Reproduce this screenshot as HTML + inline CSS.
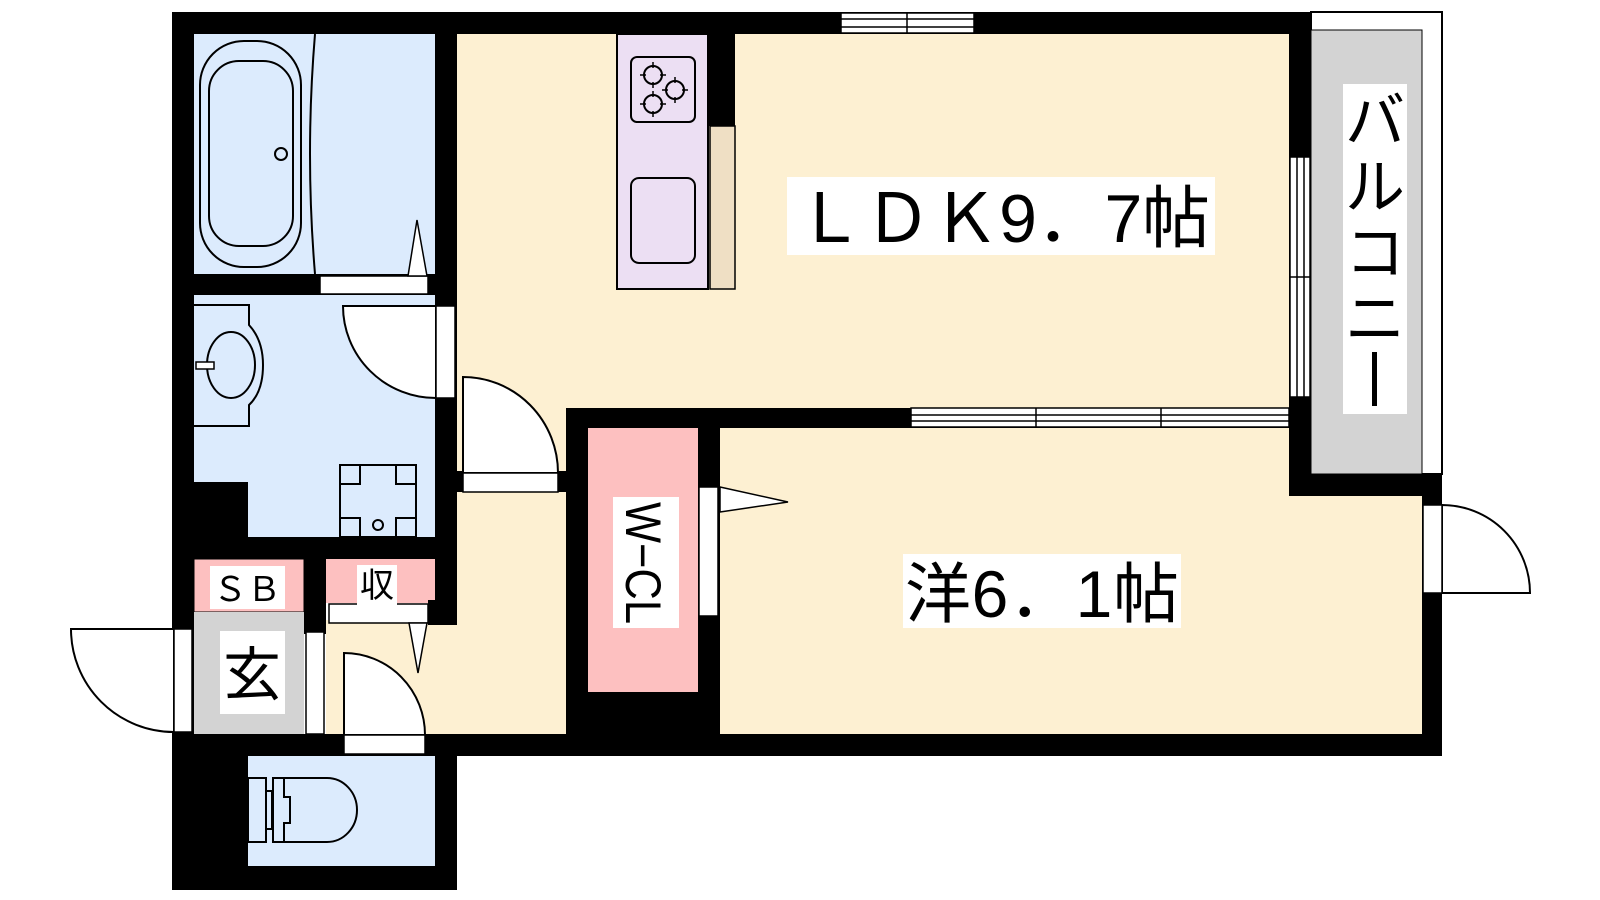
<!DOCTYPE html>
<html><head><meta charset="utf-8"><style>
html,body{margin:0;padding:0;background:#fff;width:1600px;height:900px;overflow:hidden}
svg{display:block}
text{font-family:"Liberation Sans","Noto Sans CJK JP",sans-serif;fill:#000}
</style></head><body>
<svg width="1600" height="900" viewBox="0 0 1600 900" xmlns="http://www.w3.org/2000/svg">
<!-- floors -->
<rect x="457" y="34" width="836" height="374" fill="#fdf0d2"/>
<rect x="457" y="400" width="109" height="334" fill="#fdf0d2"/>
<rect x="326" y="620" width="131" height="114" fill="#fdf0d2"/>
<rect x="720" y="427" width="702" height="307" fill="#fdf0d2"/>
<rect x="194" y="34" width="241" height="240" fill="#dcebfd"/>
<rect x="194" y="295" width="241" height="242" fill="#dcebfd"/>
<rect x="248" y="756" width="187" height="110" fill="#dcebfd"/>
<rect x="588" y="428" width="110" height="264" fill="#fdc0c0"/>
<rect x="194" y="559" width="110" height="53" fill="#fdc0c0" stroke="#000" stroke-width="1"/>
<rect x="326" y="559" width="109" height="44" fill="#fdc0c0"/>
<rect x="194" y="612" width="110" height="122" fill="#d3d3d3"/>
<!-- balcony -->
<rect x="1311" y="12" width="131" height="462" fill="#fff" stroke="#000" stroke-width="2"/>
<rect x="1311" y="30" width="111" height="444" fill="#d3d3d3" stroke="#000" stroke-width="1"/>

<!-- walls -->
<g fill="#000">
<rect x="172" y="12" width="1139" height="22"/>
<rect x="172" y="12" width="22" height="878"/>
<rect x="435" y="34" width="22" height="591"/>
<rect x="194" y="274" width="241" height="21"/>
<rect x="194" y="482" width="54" height="55"/>
<rect x="194" y="537" width="263" height="22"/>
<rect x="304" y="559" width="22" height="75"/>
<rect x="428" y="600" width="29" height="25"/>
<rect x="435" y="471" width="131" height="21"/>
<rect x="566" y="408" width="22" height="326"/>
<rect x="566" y="408" width="724" height="20"/>
<rect x="588" y="692" width="110" height="42"/>
<rect x="698" y="428" width="22" height="306"/>
<rect x="1289" y="12" width="22" height="484"/>
<rect x="1289" y="474" width="153" height="22"/>
<rect x="1422" y="474" width="20" height="282"/>
<rect x="172" y="734" width="1270" height="22"/>
<rect x="172" y="734" width="76" height="156"/>
<rect x="435" y="734" width="22" height="156"/>
<rect x="172" y="866" width="285" height="24"/>
<rect x="708" y="34" width="27" height="92"/>
</g>

<!-- windows -->
<g fill="#fff" stroke="#000" stroke-width="1.5">
<rect x="841" y="13" width="133" height="20"/>
<rect x="911" y="408" width="378" height="19"/>
<rect x="1290" y="157" width="20" height="240"/>
</g>
<g stroke="#000" stroke-width="1.5">
<line x1="841" y1="19" x2="974" y2="19"/><line x1="841" y1="27" x2="974" y2="27"/><line x1="907" y1="13" x2="907" y2="33"/>
<line x1="911" y1="415" x2="1289" y2="415"/><line x1="911" y1="421" x2="1289" y2="421"/><line x1="1036" y1="408" x2="1036" y2="427"/><line x1="1161" y1="408" x2="1161" y2="427"/>
<line x1="1297" y1="157" x2="1297" y2="397"/><line x1="1304" y1="157" x2="1304" y2="397"/><line x1="1290" y1="277" x2="1310" y2="277"/>
</g>

<!-- kitchen -->
<rect x="617" y="34" width="91" height="255" fill="#ecdff3" stroke="#000" stroke-width="2"/>
<rect x="710" y="126" width="25" height="163" fill="#efdfc4" stroke="#000" stroke-width="1.5"/>
<rect x="631" y="57" width="64" height="65" rx="6" fill="none" stroke="#000" stroke-width="2"/>
<g fill="none" stroke="#000" stroke-width="2">
<circle cx="653" cy="75" r="9"/><circle cx="675" cy="90" r="9"/><circle cx="653" cy="104" r="9"/>
<path d="M653,62v6M653,82v6M640,75h6M660,75h6M675,77v6M675,97v6M662,90h6M682,90h6M653,91v6M653,111v6M640,104h6M660,104h6" stroke-width="1.5"/>
</g>
<rect x="631" y="178" width="64" height="85" rx="8" fill="none" stroke="#000" stroke-width="2"/>

<!-- bath -->
<g fill="none" stroke="#000" stroke-width="2">
<rect x="200" y="41" width="101" height="226" rx="44"/>
<rect x="209" y="61" width="84" height="185" rx="30"/>
<circle cx="281" cy="154" r="6"/>
<path d="M315,34 Q305,154 315,274"/>
</g>
<rect x="320" y="276" width="108" height="18" fill="#fff" stroke="#000" stroke-width="1.5"/>
<path d="M408,276 L417,220 L427,276 Z" fill="#fff" stroke="#000" stroke-width="1.5"/>

<!-- washroom -->
<path d="M194,305 H249 V325 Q263,340 263,365 Q263,392 249,405 V426 H194" fill="none" stroke="#000" stroke-width="2"/>
<ellipse cx="231" cy="365" rx="24" ry="33" fill="none" stroke="#000" stroke-width="2"/>
<rect x="196" y="362" width="18" height="7" fill="#fff" stroke="#000" stroke-width="1.5"/>
<path d="M436,306 V398 A93,92 0 0 1 343,306 Z" fill="#fff" stroke="#000" stroke-width="2"/>
<rect x="436" y="306" width="19" height="92" fill="#fff" stroke="#000" stroke-width="1.5"/>
<g fill="none" stroke="#000" stroke-width="2">
<rect x="340" y="465" width="76" height="72"/>
<rect x="340" y="465" width="20" height="19"/><rect x="396" y="465" width="20" height="19"/>
<rect x="340" y="518" width="20" height="19"/><rect x="396" y="518" width="20" height="19"/>
<circle cx="378" cy="525" r="5"/>
</g>

<!-- LDK door -->
<path d="M463,377 V473 H558 A95,96 0 0 0 463,377 Z" fill="#fff" stroke="#000" stroke-width="2"/>
<rect x="463" y="473" width="95" height="19" fill="#fff" stroke="#000" stroke-width="1.5"/>

<!-- WCL door -->
<rect x="699" y="487" width="19" height="129" fill="#fff" stroke="#000" stroke-width="1.5"/>
<path d="M720,487 L788,502 L720,512 Z" fill="#fff" stroke="#000" stroke-width="1.5"/>

<!-- 収 door -->
<rect x="329" y="604" width="99" height="19" fill="#fff" stroke="#000" stroke-width="1.5"/>
<path d="M409,623 L418,673 L427,623 Z" fill="#fff" stroke="#000" stroke-width="1.5"/>

<!-- entrance doors -->
<path d="M174,629 H71 A103,103 0 0 0 174,732 Z" fill="#fff" stroke="#000" stroke-width="2"/>
<rect x="174" y="629" width="18" height="103" fill="#fff" stroke="#000" stroke-width="1.5"/>
<rect x="306" y="632" width="18" height="102" fill="#fff" stroke="#000" stroke-width="1.5"/>

<!-- toilet door -->
<path d="M344,653 V735 H425 A81,82 0 0 0 344,653 Z" fill="#fff" stroke="#000" stroke-width="2"/>
<rect x="344" y="735" width="81" height="19" fill="#fff" stroke="#000" stroke-width="1.5"/>

<!-- toilet -->
<g fill="none" stroke="#000" stroke-width="2">
<rect x="248" y="778" width="18" height="64"/>
<path d="M266,791 H272 V829 H266"/>
<path d="M273,778 H327 A30,32 0 0 1 327,842 H273 Z"/>
<path d="M284,778 V797 H290 V823 H284 V842"/>
</g>

<!-- 洋 right door -->
<path d="M1442,505 A88,88 0 0 1 1530,593 H1442 Z" fill="#fff" stroke="#000" stroke-width="2"/>
<rect x="1423" y="505" width="19" height="88" fill="#fff" stroke="#000" stroke-width="1.5"/>

<!-- labels -->
<rect x="787" y="177" width="428" height="78" fill="#fff"/>
<text x="796" y="242" font-size="68" textLength="414" lengthAdjust="spacing">ＬＤＫ9．7帖</text>
<rect x="903" y="554" width="278" height="74" fill="#fff"/>
<text x="905" y="617" font-size="66" textLength="274" lengthAdjust="spacing">洋6．1帖</text>
<rect x="613" y="497" width="66" height="131" fill="#fff"/>
<text transform="translate(626,502) rotate(90)" font-size="50" textLength="122" lengthAdjust="spacingAndGlyphs">W−CL</text>
<rect x="1343" y="84" width="64" height="330" fill="#fff"/>
<g font-size="60" text-anchor="middle">
<text x="1375" y="142">バ</text><text x="1375" y="208">ル</text><text x="1375" y="274">コ</text><text x="1375" y="340">ニ</text>
</g>
<rect x="1372" y="352" width="5" height="54" fill="#000"/>
<rect x="210" y="566" width="75" height="43" fill="#fff"/>
<text x="247" y="601" font-size="34" text-anchor="middle">ＳＢ</text>
<rect x="357" y="565" width="40" height="40" fill="#fff"/>
<text x="377" y="597" font-size="34" text-anchor="middle">収</text>
<rect x="220" y="631" width="65" height="83" fill="#fff"/>
<text x="252" y="695" font-size="58" text-anchor="middle">玄</text>
</svg>
</body></html>
